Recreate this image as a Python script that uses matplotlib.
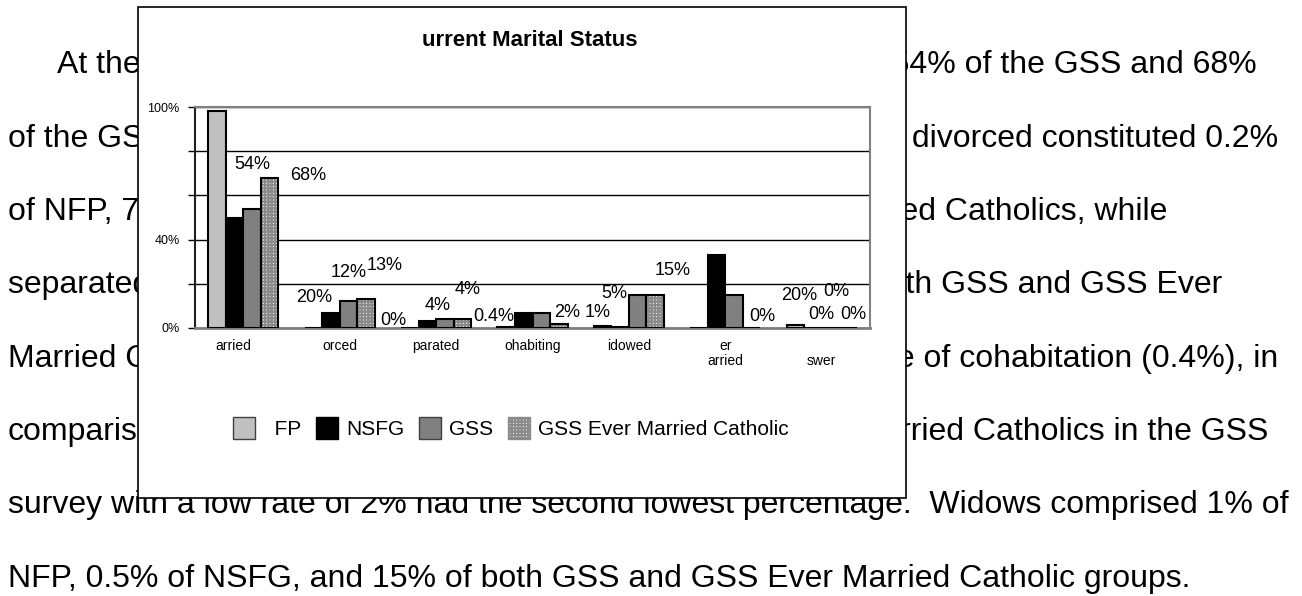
import matplotlib
matplotlib.use('Agg')
import numpy as np
import matplotlib.pyplot as plt
import matplotlib.transforms as mtransforms
from matplotlib.patches import Rectangle, Patch

plt.rcParams['font.family'] = ['Liberation Sans', 'DejaVu Sans']

# --- chart data (percent) ---
tick_labels = ['arried', 'orced', 'parated', 'ohabiting', 'idowed', 'er\narried', '\nswer']
series_names = ['  FP', 'NSFG', 'GSS', 'GSS Ever Married Catholic']
nfp = [98, 0.2, 0, 0.4, 1, 0, 1.3]
nsfg = [50, 7, 3.2, 7, 0.5, 33, 0]
gss = [54, 12, 4, 7, 15, 15, 0]
gss_emc = [68, 13, 4, 2, 15, 0, 0]

# data labels as they sit in the picture (text, x in group units, y in %)
label_text = ['54%', '68%', '20%', '12%', '13%', '0%', '4%', '4%', '0.4%',
              '2%', '1%', '5%', '15%', '0%', '20%', '0%', '0%', '0%']
label_x = [0.09, 0.67, 0.74, 1.09, 1.47, 1.56, 2.02, 2.33, 2.60,
           3.36, 3.68, 3.85, 4.45, 5.38, 5.77, 6.15, 6.00, 6.33]
label_y = [73.8, 69, 13.6, 24.9, 28.5, 3.6, 10.4, 17.2, 5,
           7.2, 7.2, 15.8, 26.2, 5, 14.9, 16.3, 5.9, 5.9]

# --- page text around the chart ---
left_parts = ['At the time', 'of the GSS Ever', 'of NFP, 7% of NSFG', 'separated respondents',
              'Married Catholics.', 'comparison',
              'survey with a low rate of 2% had the second lowest percentage.  Widows comprised 1% of',
              'NFP, 0.5% of NSFG, and 15% of both GSS and GSS Ever Married Catholic groups.']
right_parts = ['NSFG, 54% of the GSS and 68%', 'who were divorced constituted 0.2%',
               'Ever Married Catholics, while', 'in both GSS and GSS Ever',
               'lowest rate of cohabitation (0.4%), in', 'Ever Married Catholics in the GSS',
               '', '']
right_ends = [1257, 1278, 1167, 1222, 1278, 1268, 0, 0]

W, H = 1302, 596
fig = plt.figure(figsize=(W / 100, H / 100), dpi=100)

baselines = [73, 147, 220, 293, 367, 440, 513, 587]
for i, b in enumerate(baselines):
    x0 = 57 if i == 0 else 8
    fig.text(x0 / W, 1 - b / H, left_parts[i], fontsize=23, va='baseline', ha='left', zorder=1)
    if right_parts[i]:
        fig.text(right_ends[i] / W, 1 - b / H, right_parts[i], fontsize=23,
                 va='baseline', ha='right', zorder=1)

# white chart frame covering the text
fig.add_artist(Rectangle((138 / W, 1 - 498 / H), 768 / W, 491 / H, transform=fig.transFigure,
                         facecolor='white', edgecolor='black', lw=1.2, zorder=2))

fig.text(530 / W, 1 - 40 / H, 'urrent Marital Status', fontsize=16, fontweight='bold',
         ha='center', va='center', zorder=4)

ax = fig.add_axes([195 / W, 1 - 328 / H, 675 / W, 221 / H])
ax.set_zorder(3)

x = np.arange(len(tick_labels))
w = 0.1816
ax.bar(x - 1.5 * w, nfp, w, color='#c0c0c0', edgecolor='black', lw=1.5, zorder=3)
ax.bar(x - 0.5 * w, nsfg, w, color='black', edgecolor='black', lw=1.5, zorder=3)
ax.bar(x + 0.5 * w, gss, w, color='#808080', edgecolor='black', lw=1.5, zorder=3)
plt.rcParams['hatch.linewidth'] = 1.6
ax.bar(x + 1.5 * w, gss_emc, w, color='white', edgecolor='#8a8a8a', hatch='+++++', lw=0, zorder=3)
ax.bar(x + 1.5 * w, gss_emc, w, fill=False, edgecolor='black', lw=1.5, zorder=4)

for s, lx, ly in zip(label_text, label_x, label_y):
    ax.text(lx, ly, s, fontsize=13, ha='center', va='center', zorder=5, clip_on=False)

ax.set_xlim(-0.5, len(tick_labels) - 0.5)
ax.set_ylim(0, 100)
ax.set_yticks([0, 20, 40, 60, 80, 100])
ax.set_yticklabels(['0%', '', '40%', '', '', '100%'], fontsize=9)
ax.tick_params(axis='y', length=5, width=1, direction='out', pad=6)
ax.set_xticks(x)
ax.set_xticklabels(tick_labels, fontsize=10, linespacing=1.1)
ax.tick_params(axis='x', length=0, pad=8)
# first category label sits a little left of its group
lab0 = ax.get_xticklabels()[0]
lab0.set_transform(lab0.get_transform() + mtransforms.ScaledTranslation(-0.1, 0, fig.dpi_scale_trans))
ax.grid(axis='y', color='black', lw=1)
ax.set_axisbelow(True)
ax.spines['left'].set_color('#202020')
ax.spines['left'].set_linewidth(1.5)
for side in ['top', 'right']:
    ax.spines[side].set_color('#808080')
    ax.spines[side].set_linewidth(1.5)
ax.spines['bottom'].set_color('#808080')
ax.spines['bottom'].set_linewidth(2)

handles = [Patch(facecolor='#c0c0c0', edgecolor='#404040'),
           Patch(facecolor='black', edgecolor='black'),
           Patch(facecolor='#808080', edgecolor='#404040'),
           Patch(facecolor='white', edgecolor='#8a8a8a', hatch='+++++')]
leg = fig.legend(handles, series_names, loc='center', bbox_to_anchor=(511 / W, 1 - 428 / H),
                 ncol=4, frameon=False, fontsize=15, handlelength=1.05, handleheight=1.3,
                 handletextpad=0.4, columnspacing=0.7)
leg.set_zorder(5)

fig.savefig('out.png', dpi=100)
